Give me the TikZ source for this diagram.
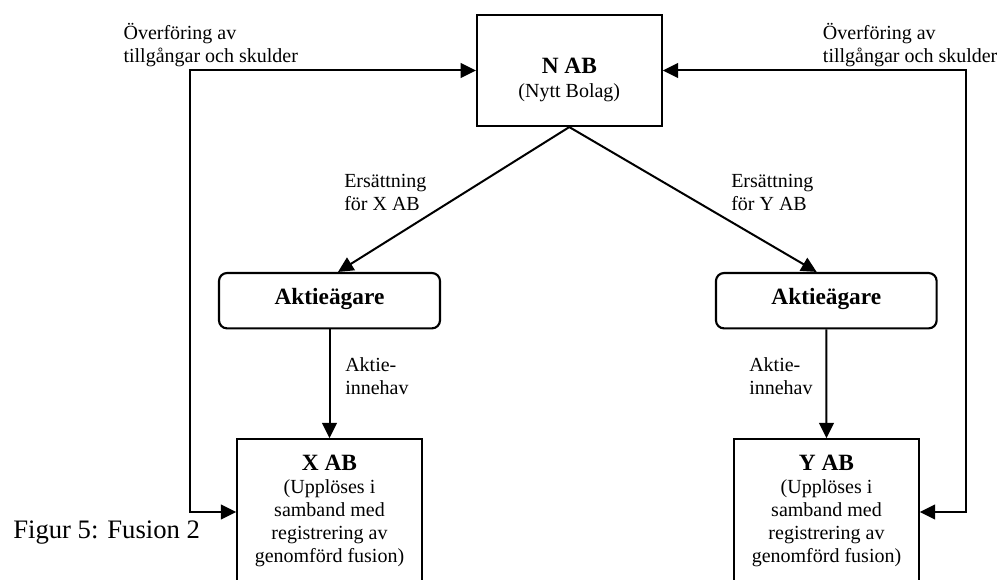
\documentclass[tikz,border=0pt]{standalone}
\usepackage{fontspec}
\setmainfont{Liberation Serif}
\usetikzlibrary{arrows.meta,calc}
\begin{document}
\begin{tikzpicture}[x=0.75pt,y=-0.75pt,
  box/.style={draw,line width=1.6pt,inner sep=0pt},
  rbox/.style={box,rounded corners=6pt},
  lbl/.style={inner sep=0pt,font=\fontsize{15}{17.25}\selectfont,align=left},
  ttl/.style={inner sep=0pt,font=\fontsize{17.5}{20}\selectfont\bfseries},
  body/.style={inner sep=0pt,font=\fontsize{15}{17.25}\selectfont,align=center},
  conn/.style={line width=1.5pt,-{Triangle[length=11.5pt,width=11pt]}},
  dconn/.style={line width=1.5pt,{Triangle[length=11.5pt,width=11pt]}-{Triangle[length=11.5pt,width=11pt]}},
]
\clip (0,0) rectangle (999,580);

% boxes
\node[box,minimum width=138.5pt,minimum height=83.25pt] (n) at (569.3,70.5) {};
\node[rbox,minimum width=165.75pt,minimum height=41.5pt] (la) at (329.5,300.7) {};
\node[rbox,minimum width=165.5pt,minimum height=41.5pt] (ra) at (826.3,300.7) {};
\node[box,anchor=north,minimum width=138.3pt,minimum height=150pt] (xab) at (329.5,438.3) {};
\node[box,anchor=north,minimum width=138.3pt,minimum height=150pt] (yab) at (826.5,438.3) {};

% box texts (multi-line nodes are placed by the baseline of their last line)
\node[ttl,anchor=base] (nt) at (569.3,74) {N AB};
\node[body,anchor=base] (nb) at (569.3,98) {(Nytt Bolag)};
\node[ttl,anchor=base] (lat) at (329.5,305) {Aktieägare};
\node[ttl,anchor=base] (rat) at (826.3,305) {Aktieägare};
\node[ttl,anchor=base] (xt) at (329.5,470) {X AB};
\node[body,anchor=base] (xb) at (329.5,562) {(Upplöses i\\samband med\\registrering av\\genomförd fusion)};
\node[ttl,anchor=base] (yt) at (826.5,470) {Y AB};
\node[body,anchor=base] (yb) at (826.5,562) {(Upplöses i\\samband med\\registrering av\\genomförd fusion)};

% corner points of the transfer lines
\coordinate (lt) at (190,70.5);
\coordinate (lb) at (190,512);
\coordinate (rt) at (966,70.5);
\coordinate (rb) at (966,512);

% connectors
\draw[dconn] (n.west) -- (lt) -- (lb) -- (lb -| xab.west);
\draw[dconn] (n.east) -- (rt) -- (rb) -- (rb -| yab.east);
\draw[conn] (n.south) -- ($(la.north)+(8.5,0)$);
\draw[conn] (n.south) -- ($(ra.north)+(-9.6,0)$);
\draw[conn] (la.south) -- (xab.north);
\draw[conn] (ra.south) -- (yab.north);

% connector labels
\node[lbl,anchor=base west] (ovl) at (123.3,63) {Överföring av\\tillgångar och skulder};
\node[lbl,anchor=base west] (ovr) at (822.7,63) {Överföring av\\tillgångar och skulder};
\node[lbl,anchor=base west] (ersx) at (344,211) {Ersättning\\för X AB};
\node[lbl,anchor=base west] (ersy) at (731,211) {Ersättning\\för Y AB};
\node[lbl,anchor=base west] (akx) at (345,395) {Aktie-\\innehav};
\node[lbl,anchor=base west] (aky) at (749,395) {Aktie-\\innehav};

% caption
\node[inner sep=0pt,anchor=base west,font=\fontsize{20}{24}\selectfont] (cap) at (13,538) {Figur 5: Fusion 2};
\end{tikzpicture}
\end{document}
